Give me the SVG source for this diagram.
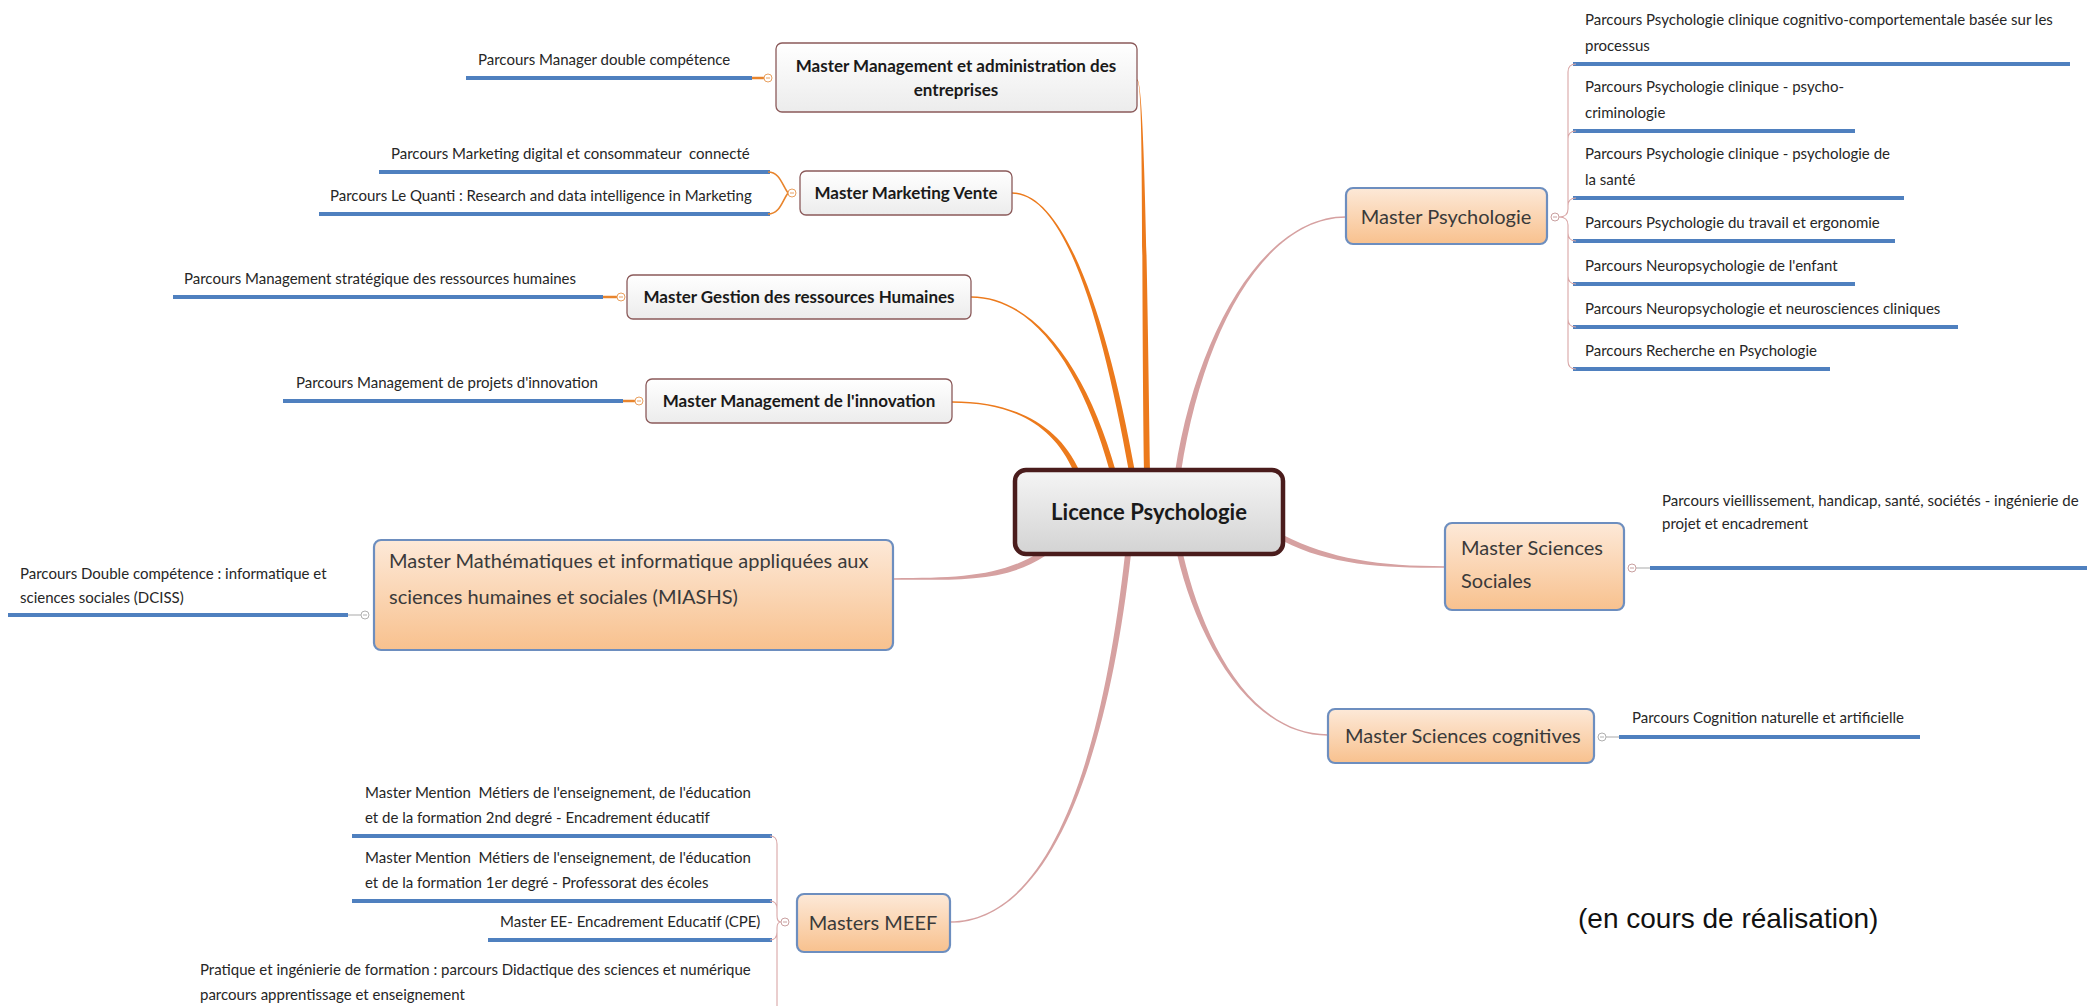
<svg xmlns="http://www.w3.org/2000/svg" width="2087" height="1006" viewBox="0 0 2087 1006">
<defs>
<linearGradient id="peach" x1="0" y1="0" x2="0" y2="1"><stop offset="0" stop-color="#fde9d8"/><stop offset="1" stop-color="#f8c18e"/></linearGradient>
<linearGradient id="grey" x1="0" y1="0" x2="0" y2="1"><stop offset="0" stop-color="#ffffff"/><stop offset="1" stop-color="#ececec"/></linearGradient>
<linearGradient id="centre" x1="0" y1="0" x2="0" y2="1"><stop offset="0" stop-color="#f5f5f5"/><stop offset="1" stop-color="#d3d3d3"/></linearGradient>
<style>
.child{font-family:Lato,"Liberation Sans",sans-serif;font-size:15px;fill:#262626}
.bold{font-family:Lato,"Liberation Sans",sans-serif;font-size:17px;font-weight:bold;fill:#1a1a1a;text-anchor:middle}
.big{font-family:Lato,"Liberation Sans",sans-serif;font-size:20px;fill:#3a3a3a}
.ctr{font-family:Lato,"Liberation Sans",sans-serif;font-size:22px;font-weight:bold;fill:#1a1a1a;text-anchor:middle}
.note{font-family:"Liberation Sans",Arial,sans-serif;font-size:28px;fill:#111}
.obox{fill:url(#peach);stroke:#6d8ebf;stroke-width:2.2}
.gbox{fill:url(#grey);stroke:#8b5a5a;stroke-width:1.3}
.blue{stroke:#4f80bf;stroke-width:4;fill:none}
.oc{fill:#ec7a1c}
.pc{fill:#d6a1a1}
.obr{stroke:#e8842c;stroke-width:1.6;fill:none}
.pbr{stroke:#d9a7a7;stroke-width:1.1;fill:none}
.gl{stroke:#a9a9a9;stroke-width:1;fill:none}
.tog{fill:#fff;stroke-width:1}
</style>
</defs>
<rect width="2087" height="1006" fill="#ffffff"/>

<g id="connectors">
<path class="oc" d="M1137,79.2 C1144,79.2 1147,250 1150,472 L1144,472 C1141,250 1144,80.8 1137,80.8 Z"/>
<path class="oc" d="M1012,192.2 C1065,192.2 1108,320 1135,472 L1129,472 C1102,320 1065,193.8 1012,193.8 Z"/>
<path class="oc" d="M971,296.2 C1035,296.2 1088,370 1116,472 L1110,472 C1082,370 1035,297.8 971,297.8 Z"/>
<path class="oc" d="M952,401.2 C1010,401.2 1058,422 1080,472 L1074,472 C1052,422 1010,402.8 952,402.8 Z"/>
<path class="pc" d="M1346,217.8 C1265,217.8 1203,330 1181,472 L1175,472 C1197,330 1265,216.2 1346,216.2 Z"/>
<path class="pc" d="M1445,566.2 C1380,566.2 1330,559 1283,535 L1283,541 C1330,565 1380,567.8 1445,567.8 Z"/>
<path class="pc" d="M1328,735.8 C1250,735.8 1197,640 1177,554 L1183,554 C1203,640 1250,734.2 1328,734.2 Z"/>
<path class="pc" d="M950,921.2 C1050,921.2 1102,760 1125,554 L1131,554 C1108,760 1050,922.8 950,922.8 Z"/>
<path class="pc" d="M893,578.2 C960,578.2 1002,576 1040,552 L1045,556 C1006,582 960,579.8 893,579.8 Z"/>

<path class="blue" d="M466,78 H752"/>
<path d="M752,78 H764" stroke="#e8842c" stroke-width="2.5"/>
<path class="blue" d="M379,172 H770 M319,214 H770"/>
<path class="obr" d="M768,172 C780,172 782,185 788,193 C782,201 780,214 768,214"/>
<path class="blue" d="M173,297 H603"/>
<path d="M603,297 H617" stroke="#e8842c" stroke-width="2.5"/>
<path class="blue" d="M283,401 H623"/>
<path d="M623,401 H635" stroke="#e8842c" stroke-width="2.5"/>
<path class="blue" d="M8,615 H348"/>
<path class="gl" d="M348,615 H361"/>
<path class="blue" d="M1573,64 H2070 M1573,131 H1855 M1573,198 H1904 M1573,241 H1895 M1573,284 H1855 M1573,327 H1958 M1573,369 H1830"/>
<path class="pbr" d="M1559,217 Q1568,217 1568,209 L1568,72 Q1568,64 1576,64 M1568,139 Q1568,131 1576,131 M1568,206 Q1568,198 1576,198 M1559,217 Q1568,217 1568,225 L1568,361 Q1568,369 1576,369 M1568,233 Q1568,241 1576,241 M1568,276 Q1568,284 1576,284 M1568,319 Q1568,327 1576,327"/>
<path class="gl" d="M1636,568 H1650"/>
<path class="blue" d="M1650,568 H2087"/>
<path class="gl" d="M1606,737 H1619"/>
<path class="blue" d="M1619,737 H1920"/>
<path class="blue" d="M352,836 H772 M352,901 H772 M488,940 H772"/>
<path class="pbr" d="M781,922 Q777,922 777,916 L777,844 Q777,836 770,836 M777,909 Q777,901 770,901 M781,922 Q777,922 777,928 L777,1006 M777,932 Q777,940 770,940"/>
</g>

<g id="toggles">
<circle class="tog" cx="768" cy="78" r="4" stroke="#e8a060"/><path d="M766,78 H770" stroke="#e8a060"/>
<circle class="tog" cx="792" cy="193" r="4" stroke="#e8a060"/><path d="M790,193 H794" stroke="#e8a060"/>
<circle class="tog" cx="621" cy="297" r="4" stroke="#e8a060"/><path d="M619,297 H623" stroke="#e8a060"/>
<circle class="tog" cx="639" cy="401" r="4" stroke="#e8a060"/><path d="M637,401 H641" stroke="#e8a060"/>
<circle class="tog" cx="365" cy="615" r="4" stroke="#b0b0b0"/><path d="M363,615 H367" stroke="#b0b0b0"/>
<circle class="tog" cx="1555" cy="217" r="4" stroke="#c9a0a0"/><path d="M1553,217 H1557" stroke="#c9a0a0"/>
<circle class="tog" cx="1632" cy="568" r="4" stroke="#c9a0a0"/><path d="M1630,568 H1634" stroke="#c9a0a0"/>
<circle class="tog" cx="1602" cy="737" r="4" stroke="#b0b0b0"/><path d="M1600,737 H1604" stroke="#b0b0b0"/>
<circle class="tog" cx="785" cy="922" r="4" stroke="#c9a0a0"/><path d="M783,922 H787" stroke="#c9a0a0"/>
</g>

<g id="centre-node">
<rect x="1015" y="470" width="268" height="84" rx="11" fill="url(#centre)" stroke="#4a1c1c" stroke-width="4.5"/>
<text class="ctr" x="1149" y="520">Licence Psychologie</text>
</g>

<g id="mmae">
<rect class="gbox" x="776" y="43" width="361" height="69" rx="6"/>
<text class="bold" x="956" y="72">Master Management et administration des</text>
<text class="bold" x="956" y="96">entreprises</text>
<text class="child" x="478" y="65">Parcours Manager double compétence</text>
</g>

<g id="mmv">
<rect class="gbox" x="800" y="171" width="212" height="44" rx="6"/>
<text class="bold" x="906" y="199">Master Marketing Vente</text>
<text class="child" x="391" y="159">Parcours Marketing digital et consommateur &#160;connecté</text>
<text class="child" x="330" y="201">Parcours Le Quanti : Research and data intelligence in Marketing</text>
</g>

<g id="mgrh">
<rect class="gbox" x="627" y="275" width="344" height="44" rx="6"/>
<text class="bold" x="799" y="303">Master Gestion des ressources Humaines</text>
<text class="child" x="184" y="284">Parcours Management stratégique des ressources humaines</text>
</g>

<g id="mmi">
<rect class="gbox" x="646" y="379" width="306" height="44" rx="6"/>
<text class="bold" x="799" y="407">Master Management de l'innovation</text>
<text class="child" x="296" y="388">Parcours Management de projets d'innovation</text>
</g>

<g id="miashs">
<rect class="obox" x="374" y="540" width="519" height="110" rx="7"/>
<text class="big" x="389" y="568">Master Mathématiques et informatique appliquées aux</text>
<text class="big" x="389" y="604">sciences humaines et sociales (MIASHS)</text>
<text class="child" x="20" y="579">Parcours Double compétence : informatique et</text>
<text class="child" x="20" y="603">sciences sociales (DCISS)</text>
</g>

<g id="meef">
<rect class="obox" x="797" y="894" width="153" height="58" rx="7"/>
<text class="big" x="873" y="930" text-anchor="middle">Masters MEEF</text>
<text class="child" x="365" y="798">Master Mention &#160;Métiers de l'enseignement, de l'éducation</text>
<text class="child" x="365" y="823">et de la formation 2nd degré - Encadrement éducatif</text>
<text class="child" x="365" y="863">Master Mention &#160;Métiers de l'enseignement, de l'éducation</text>
<text class="child" x="365" y="888">et de la formation 1er degré - Professorat des écoles</text>
<text class="child" x="500" y="927">Master EE- Encadrement Educatif (CPE)</text>
<text class="child" x="200" y="975">Pratique et ingénierie de formation : parcours Didactique des sciences et numérique</text>
<text class="child" x="200" y="1000">parcours apprentissage et enseignement</text>
</g>

<g id="psychologie">
<rect class="obox" x="1346" y="188" width="201" height="56" rx="7"/>
<text class="big" x="1446" y="224" text-anchor="middle">Master Psychologie</text>
<text class="child" x="1585" y="25">Parcours Psychologie clinique cognitivo-comportementale basée sur les</text>
<text class="child" x="1585" y="51">processus</text>
<text class="child" x="1585" y="92">Parcours Psychologie clinique - psycho-</text>
<text class="child" x="1585" y="118">criminologie</text>
<text class="child" x="1585" y="159">Parcours Psychologie clinique - psychologie de</text>
<text class="child" x="1585" y="185">la santé</text>
<text class="child" x="1585" y="228">Parcours Psychologie du travail et ergonomie</text>
<text class="child" x="1585" y="271">Parcours Neuropsychologie de l'enfant</text>
<text class="child" x="1585" y="314">Parcours Neuropsychologie et neurosciences cliniques</text>
<text class="child" x="1585" y="356">Parcours Recherche en Psychologie</text>
</g>

<g id="sciences-sociales">
<rect class="obox" x="1445" y="523" width="179" height="87" rx="7"/>
<text class="big" x="1461" y="555">Master Sciences</text>
<text class="big" x="1461" y="588">Sociales</text>
<text class="child" x="1662" y="506">Parcours vieillissement, handicap, santé, sociétés - ingénierie de</text>
<text class="child" x="1662" y="529">projet et encadrement</text>
</g>

<g id="sciences-cognitives">
<rect class="obox" x="1328" y="709" width="266" height="54" rx="7"/>
<text class="big" x="1345" y="743">Master Sciences cognitives</text>
<text class="child" x="1632" y="723">Parcours Cognition naturelle et artificielle</text>
</g>

<text class="note" x="1578" y="928">(en cours de réalisation)</text>
</svg>
